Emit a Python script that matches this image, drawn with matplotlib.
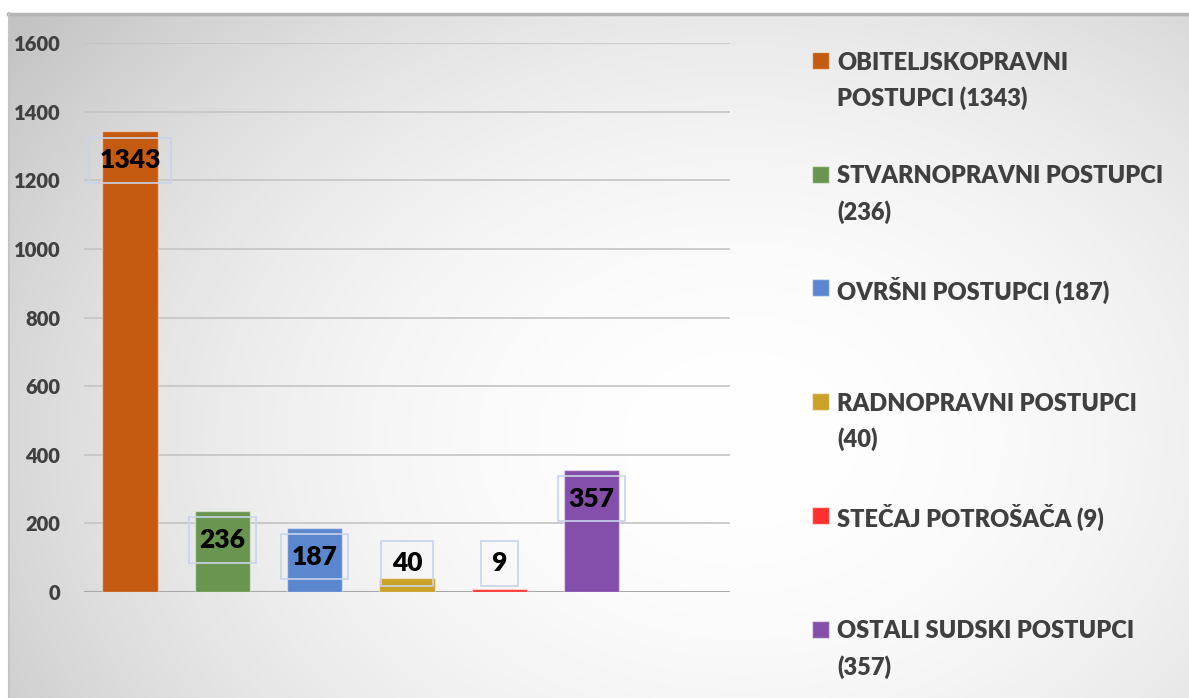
import textwrap
import numpy as np
import matplotlib
matplotlib.use("Agg")
import matplotlib.pyplot as plt
from matplotlib.patches import Rectangle

# ---- data ----
categories = ["OBITELJSKOPRAVNI POSTUPCI", "STVARNOPRAVNI POSTUPCI", "OVRŠNI POSTUPCI",
              "RADNOPRAVNI POSTUPCI", "STEČAJ POTROŠAČA", "OSTALI SUDSKI POSTUPCI"]
values = [1343, 236, 187, 40, 9, 357]
colors = ["#C55A11", "#6A9550", "#5B87CF", "#C9A227", "#FF3030", "#844FAA"]
yticks = [0, 200, 400, 600, 800, 1000, 1200, 1400, 1600]

W, H = 1189, 698
fig = plt.figure(figsize=(W / 100, H / 100), dpi=100)
fig.patch.set_facecolor("white")

# ---- radial gradient background panel ----
bg = fig.add_axes([0, 0, 1, 1], zorder=0)
yy, xx = np.mgrid[0:H, 0:W]
cx, cy, rx, ry = 740, 440, 740, 560
d2 = ((xx - cx) / rx) ** 2 + ((yy - cy) / ry) ** 2
g = np.clip(255 - 40 * d2, 185, 255) / 255.0
img = np.dstack([g, g, g])
img[:13, :, :] = 1.0
img[:, :8, :] = 1.0
bg.imshow(img, extent=[0, W, H, 0], aspect="auto", interpolation="bilinear")
bg.plot([8, W], [13.5, 13.5], color="#b4b4b4", lw=2.5)
bg.plot([8.5, 8.5], [13, H], color="#c4c4c4", lw=1.5)
bg.set_xlim(0, W)
bg.set_ylim(H, 0)
bg.axis("off")

# ---- main axes ----
left, right = 84 / W, 730 / W
bottom, top = 1 - 592 / H, 1 - 43 / H
ax = fig.add_axes([left, bottom, right - left, top - bottom], zorder=1)
ax.patch.set_alpha(0)
x = np.arange(len(values))
ax.bar(x, values, width=0.6, color=colors, edgecolor=(1, 1, 1, 0.45), linewidth=1, zorder=3)
ax.set_xlim(-0.5, 6.5)
ax.set_ylim(0, 1600)
ax.set_yticks(yticks)
ax.set_yticklabels([str(t) for t in yticks], fontfamily="Lato", fontweight="heavy",
                   fontsize=14.5, color="#404040")
ax.tick_params(axis="y", length=0, pad=17)
ax.set_xticks([])
for s in ax.spines.values():
    s.set_visible(False)
for t in yticks[1:]:
    ax.axhline(t, color="#c4c4c4", lw=1.2, zorder=1)
ax.axhline(0, color="#a8a8a8", lw=1.5, zorder=2)

# data labels (inside end, kept above a minimum height)
offset = 29 * 1600 / 549
min_y = 84
for xi, v in zip(x, values):
    ly = max(v - offset, min_y)
    ax.text(xi, ly, str(v), ha="center", va="center", fontfamily="Lato",
            fontweight="heavy", fontsize=19, color="black", zorder=5,
            bbox=dict(boxstyle="square,pad=0.4", facecolor="none",
                      edgecolor="#c9d4ea", linewidth=1.2))

# ---- legend (manual) ----
leg_top = 60.5
leg_step = 113.7
line_gap = 36
for i, (c, v, col) in enumerate(zip(categories, values, colors)):
    lines = textwrap.wrap(f"{c} ({v})", width=22)
    y0 = leg_top + i * leg_step
    fig.patches.append(Rectangle((812 / W, 1 - (y0 + 8.5) / H), 17 / W, 17 / H,
                                 transform=fig.transFigure, facecolor=col,
                                 edgecolor=(1, 1, 1, 0.5), linewidth=1, zorder=3))
    for j, ln in enumerate(lines):
        fig.text(837 / W, 1 - (y0 + j * line_gap) / H, ln, ha="left", va="center_baseline",
                 fontfamily="Lato", fontweight="heavy", fontsize=17, color="#404040", zorder=3)

fig.savefig("out.png", dpi=100)
